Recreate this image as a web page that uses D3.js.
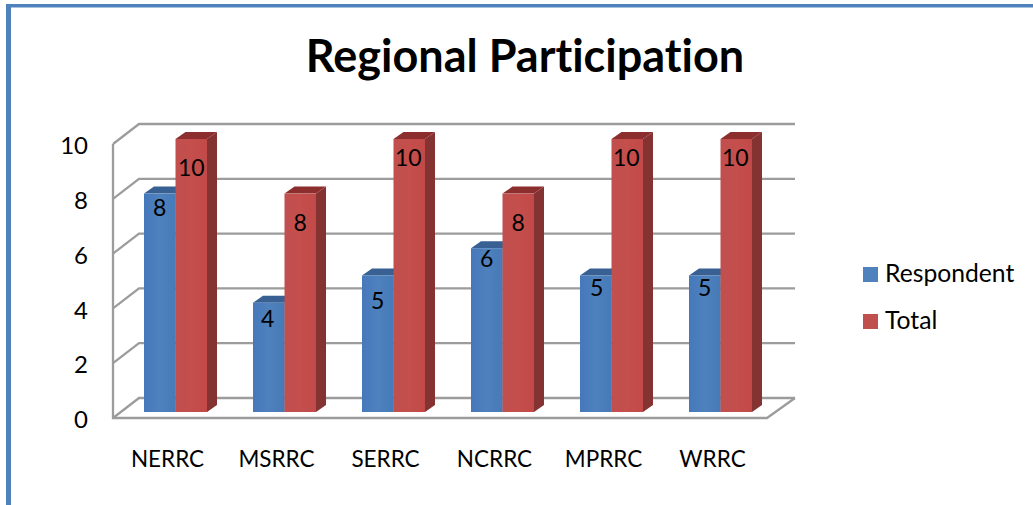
<!DOCTYPE html>
<html>
<head>
<meta charset="utf-8">
<script src="https://cdnjs.cloudflare.com/ajax/libs/d3/7.8.5/d3.min.js"></script>
<style>
html, body { margin: 0; padding: 0; background: #fff; }
svg { display: block; }
text { font-family: Lato, "Open Sans", sans-serif; fill: #000; font-variant-ligatures: none; }
</style>
</head>
<body>
<script>
var regions = ["NERRC", "MSRRC", "SERRC", "NCRRC", "MPRRC", "WRRC"];
var respondent = [8, 4, 5, 6, 5, 5];
var total = [10, 8, 10, 8, 10, 10];
var seriesNames = ["Respondent", "Total"];
var yTicks = [0, 2, 4, 6, 8, 10];

var w = 1033, h = 505;
var svg = d3.select("body").append("svg").attr("width", w).attr("height", h);

// soft edges, the source is a scaled screenshot
var defs = svg.append("defs");
defs.append("filter").attr("id", "soft")
    .append("feGaussianBlur").attr("stdDeviation", 0.45);

function shade(id, c1, c2, c3) {
    var g = defs.append("linearGradient").attr("id", id);
    g.append("stop").attr("offset", "0%").attr("stop-color", c1);
    g.append("stop").attr("offset", "50%").attr("stop-color", c2);
    g.append("stop").attr("offset", "100%").attr("stop-color", c3);
}
shade("blueFront", "#4578bb", "#4f81bd", "#457ab8");
shade("redFront", "#c0504d", "#c44f4d", "#c24a47");

var colors = [
    {front: "url(#blueFront)", top: "#376092", side: "#2f5b8f", key: "#4f81bd"},
    {front: "url(#redFront)", top: "#8c2f2d", side: "#843231", key: "#c0504d"}
];

// page border
svg.append("rect").attr("x", 6).attr("y", 4).attr("width", 5).attr("height", h - 4).attr("fill", "#4f81bd");
svg.append("rect").attr("x", 6).attr("y", 4).attr("width", w - 6).attr("height", 3.5).attr("fill", "#4f81bd");

svg.append("text")
    .attr("x", 525).attr("y", 72)
    .attr("text-anchor", "middle")
    .style("font-size", "45px").style("font-weight", "bold")
    .text("Regional Participation");

// scales
var xBand = d3.scaleBand().domain(regions).range([113, 767]);
var xSeries = d3.scaleBand().domain([0, 1]).range([31, 94]);
var yFront = d3.scaleLinear().domain([0, 10]).range([418, 144]);
var yBar = d3.scaleLinear().domain([0, 10]).range([412, 139]);
var wallDx = 26, wallDy = -20;
var barDx = 10, barDy = -7;

// walls and floor
var grid = svg.append("g")
    .attr("filter", "url(#soft)")
    .attr("fill", "none")
    .attr("stroke", "#9c9c9c")
    .attr("stroke-width", 2.3);

yTicks.forEach(function (t) {
    var y = yFront(t);
    grid.append("path").attr("d", d3.line()([
        [xBand.range()[0], y],
        [xBand.range()[0] + wallDx, y + wallDy],
        [xBand.range()[1] + wallDx + 2, y + wallDy]
    ]));
});
grid.append("path").attr("d", d3.line()([
    [xBand.range()[0], yFront(10)],
    [xBand.range()[0], yFront(0)],
    [xBand.range()[1], yFront(0)],
    [xBand.range()[1] + wallDx + 2, yFront(0) + wallDy]
]));

// bars
var bars = svg.append("g").attr("filter", "url(#soft)");
[respondent, total].forEach(function (values, s) {
    var g = bars.append("g");
    values.forEach(function (v, i) {
        var x0 = xBand(regions[i]) + xSeries(s);
        var x1 = x0 + xSeries.bandwidth();
        var y0 = yBar(0), y1 = yBar(v);
        g.append("path").attr("fill", colors[s].side).attr("d", d3.line()([
            [x1, y1], [x1 + barDx, y1 + barDy], [x1 + barDx, y0 + barDy], [x1, y0]
        ]) + "Z");
        g.append("path").attr("fill", colors[s].top).attr("d", d3.line()([
            [x0, y1], [x0 + barDx, y1 + barDy], [x1 + barDx, y1 + barDy], [x1, y1]
        ]) + "Z");
        g.append("rect")
            .attr("x", x0).attr("y", y1)
            .attr("width", x1 - x0).attr("height", y0 - y1)
            .attr("fill", colors[s].front);
    });
});

// value labels do not sit at a constant place in the source, so each one is nudged
var labelNudge = [
    [[0, 14], [-1, 16], [0, 25], [0, 11], [1, 12], [0, 12]],
    [[0, 29], [0, 29], [-1, 19], [0, 29], [-1, 19], [-1, 19]]
];
[respondent, total].forEach(function (values, s) {
    values.forEach(function (v, i) {
        var x0 = xBand(regions[i]) + xSeries(s);
        svg.append("text")
            .attr("x", x0 + xSeries.bandwidth() / 2 + labelNudge[s][i][0])
            .attr("y", yBar(v) + labelNudge[s][i][1])
            .attr("dy", "0.35em")
            .attr("text-anchor", "middle")
            .style("font-size", "23px")
            .text(v);
    });
});

// axes
var yAxis = svg.append("g")
    .attr("transform", "translate(113,2)")
    .call(d3.axisLeft(yFront).tickValues(yTicks).tickSize(0).tickPadding(25));
yAxis.select(".domain").remove();
yAxis.selectAll("text").style("font-size", "24px").style("font-family", "Lato, sans-serif");

var xAxis = svg.append("g")
    .attr("transform", "translate(0,467)")
    .call(d3.axisBottom(xBand).tickSize(0).tickPadding(0));
xAxis.select(".domain").remove();
xAxis.selectAll("text")
    .attr("dy", 0).attr("y", 0)
    .style("font-size", "22.5px").style("font-family", "Lato, sans-serif");

// legend
var legendY = d3.scalePoint().domain(seriesNames).range([275, 322]);
seriesNames.forEach(function (name, s) {
    svg.append("rect")
        .attr("x", 863).attr("y", legendY(name) - 8)
        .attr("width", 15).attr("height", 15)
        .attr("fill", colors[s].key);
    svg.append("text")
        .attr("x", 885).attr("y", legendY(name) + 7)
        .style("font-size", "24.7px")
        .text(name);
});
</script>
</body>
</html>
